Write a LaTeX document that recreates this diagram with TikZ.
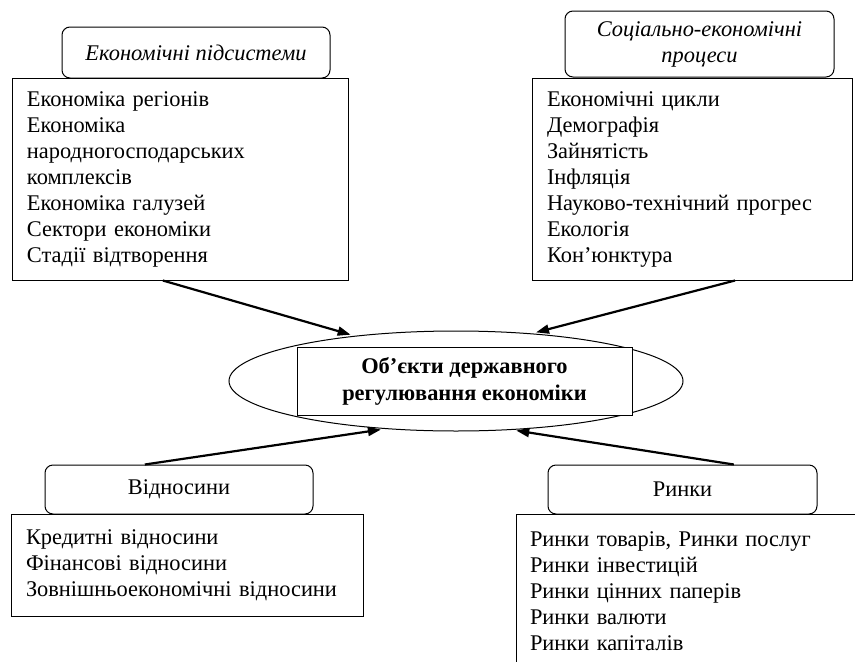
\documentclass[tikz,border=0pt]{standalone}
\usepackage{fontspec}
\setmainfont{Liberation Serif}
\usetikzlibrary{shapes.geometric,arrows.meta,calc}

\begin{document}
\begin{tikzpicture}[x=1pt,y=-1pt,line width=1pt,
        txt/.style={font=\fontsize{22.4}{26}\selectfont},
        title/.style={txt,draw,rounded corners=8pt,align=center,inner sep=0pt},
        list/.style={txt,draw,align=left,inner ysep=0pt},
        arr/.style={line width=2.2pt,-{Triangle[length=13pt,width=9pt]},shorten >=4pt}]
        \clip (0,0) rectangle (855,662);
        \node [ellipse,draw,minimum width=454,minimum height=100,inner sep=0pt] (ell) at (456,381) {};
        \node [txt,draw,fill=white,align=center,minimum width=335,minimum height=68,inner sep=0pt,font=\fontsize{22.4}{27}\selectfont\bfseries] (obj) at (464.5,381) {Об’єкти державного\\регулювання економіки};
        \node [title,minimum width=268,minimum height=51,font=\fontsize{22.4}{26}\selectfont\itshape] (hdrA) at (196,52.5) {Економічні підсистеми};
        \node [title,minimum width=269,minimum height=66,font=\fontsize{22.4}{26}\selectfont\itshape] (hdrB) at (699.5,44) {Соціально-економічні\\процеси};
        \node [title,minimum width=268,minimum height=49] (hdrC) at (179,489.5) {Відносини};
        \node [title,minimum width=269,minimum height=49] (hdrD) at (682.5,489.5) {Ринки};
        \node [list,minimum width=336,minimum height=202,text width=306,inner xsep=15] (listA) at (180,179) {Економіка регіонів\\Економіка\\народногосподарських\\комплексів\\Економіка галузей\\Сектори економіки\\Стадії відтворення};
        \node [list,minimum width=320,minimum height=202,text width=290,inner xsep=15] (listB) at (692,179) {Економічні цикли\\Демографія\\Зайнятість\\Інфляція\\Науково-технічний прогрес\\Екологія\\Кон’юнктура};
        \node [list,minimum width=352,minimum height=102,text width=322,inner xsep=15] (listC) at (187,565) {Кредитні відносини\\Фінансові відносини\\Зовнішньоекономічні відносини};
        \node [list,minimum width=354,minimum height=154,text width=326,inner xsep=14] (listD) at (693,591) {Ринки товарів, Ринки послуг\\Ринки інвестицій\\Ринки цінних паперів\\Ринки валюти\\Ринки капіталів};
        \draw [arr] ($(listA.south west)!0.449!(listA.south east)$) -- (ell.156);
        \draw [arr] ($(listB.south west)!0.634!(listB.south east)$) -- (ell.32);
        \draw [arr] ($(hdrC.north west)!0.373!(hdrC.north east)$) -- (ell.214);
        \draw [arr] ($(hdrD.north west)!0.69!(hdrD.north east)$) -- (ell.319);
\end{tikzpicture}
\end{document}
